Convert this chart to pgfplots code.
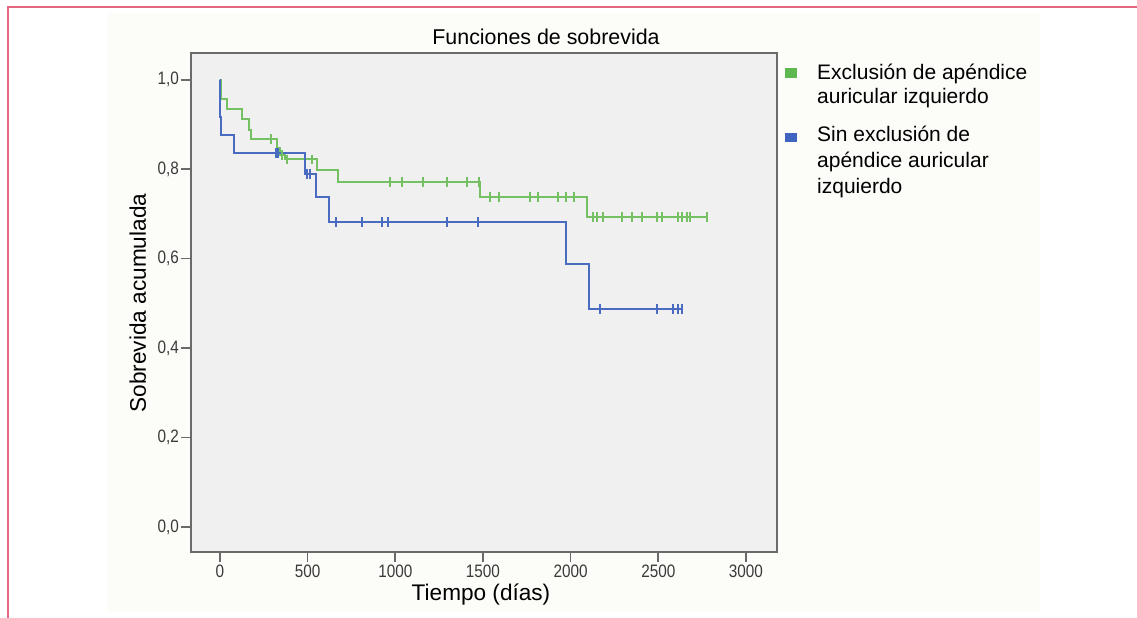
\documentclass[border=0pt]{standalone}
\usepackage{fontspec}
\setmainfont{Liberation Sans}
\newfontfamily\narrowfont[FakeStretch=0.85]{Liberation Sans}
\usepackage{pgfplots}
\pgfplotsset{compat=1.18}
\definecolor{kmGreen}{HTML}{74C062}
\definecolor{kmBlue}{HTML}{4A6CC0}
\definecolor{legGreen}{HTML}{5DB94F}
\definecolor{legBlue}{HTML}{3F64C2}
\definecolor{plotBg}{HTML}{F0F0F0}
\definecolor{frameGray}{HTML}{6A6A6A}
\definecolor{tickGray}{HTML}{3A3A3A}
\definecolor{panelBg}{HTML}{FCFCF8}
\definecolor{pinkLine}{HTML}{E4677F}
\tikzset{
  km/.style={const plot, line width=1pt, no markers},
  cens/.style={only marks, mark=|, mark size=2.4pt, mark options={line width=1pt}},
}
\begin{document}
\begin{tikzpicture}
\path[use as bounding box] (-95.5pt,-32.5pt) rectangle (473pt,276pt);
\fill[panelBg] (-42pt,-30pt) rectangle (424.5pt,269.5pt);
\draw[pinkLine, line width=0.8pt] (-91.5pt,-40pt) -- (-91.5pt,272.5pt) -- (480pt,272.5pt);
\begin{axis}[
    scale only axis, width=293pt, height=249.5pt,
    xmin=-165, xmax=3177, ymin=-0.056, ymax=1.06,
    axis background/.style={fill=plotBg},
    axis line style={draw=frameGray, line width=0.8pt},
    xtick={0,500,1000,1500,2000,2500,3000},
    ytick={0,0.2,0.4,0.6,0.8,1.0},
    xtick pos=bottom, ytick pos=left,
    tick align=outside, major tick length=5pt,
    tick style={draw=frameGray, line width=0.8pt},
    ticklabel style={font=\narrowfont\fontsize{9}{10}\selectfont, text=tickGray},
    /pgf/number format/assume math mode=true,
    xticklabel style={yshift=2.2pt, /pgf/number format/.cd, fixed, 1000 sep={}},
    yticklabel style={xshift=2.5pt, /pgf/number format/.cd, fixed, fixed zerofill, precision=1, use comma},
    clip=false,
]
% Exclusion de apendice auricular izquierdo
\addplot[km, kmGreen] coordinates {
  (0,1.0) (4,0.957) (38,0.935) (124,0.912) (165,0.888) (177,0.867) (323,0.847)
  (342,0.832) (371,0.822) (551,0.799) (671,0.772) (1483,0.738) (2095,0.693) (2776,0.693)};
\addplot[cens, kmGreen] coordinates {
  (291,0.867) (352,0.832) (380,0.822) (527,0.822)
  (970,0.772) (1036,0.772) (1160,0.772) (1296,0.772) (1410,0.772) (1479,0.772)
  (1540,0.738) (1592,0.738) (1768,0.738) (1816,0.738) (1930,0.738) (1974,0.738) (2021,0.738)
  (2130,0.693) (2149,0.693) (2187,0.693) (2292,0.693) (2349,0.693) (2406,0.693)
  (2491,0.693) (2519,0.693) (2614,0.693) (2634,0.693) (2662,0.693) (2681,0.693) (2776,0.693)};
% Sin exclusion
\addplot[km, kmBlue] coordinates {
  (0,1.0) (2,0.917) (5,0.877) (82,0.836) (485,0.789) (546,0.737) (624,0.682)
  (1974,0.588) (2107,0.487) (2634,0.487)};
\addplot[cens, kmBlue] coordinates {
  (318,0.836) (333,0.836) (494,0.789) (513,0.789)
  (660,0.682) (808,0.682) (922,0.682) (960,0.682) (1297,0.682) (1474,0.682)
  (2168,0.487) (2491,0.487) (2586,0.487) (2614,0.487) (2634,0.487)};
\end{axis}
% title, axis labels
\node[anchor=base, font=\fontsize{10.7}{12}\selectfont] at (177.5pt,254pt) {Funciones de sobrevida};
\node[anchor=base, font=\fontsize{11.3}{13}\selectfont] at (145pt,-24pt) {Tiempo (días)};
\node[anchor=base, rotate=90, font=\fontsize{11.3}{13}\selectfont] at (-22.5pt,124.5pt) {Sobrevida acumulada};
% legend
\fill[legGreen] (297.2pt,237.2pt) rectangle (302.8pt,242pt);
\fill[legBlue] (297.2pt,204.9pt) rectangle (302.8pt,209.7pt);
\begin{scope}[every node/.style={anchor=base west, inner sep=0pt, font=\fontsize{10.5}{12}\selectfont}]
\node at (312.9pt,236.4pt) {Exclusión de apéndice};
\node at (312.9pt,224.1pt) {auricular izquierdo};
\node at (312.9pt,205.2pt) {Sin exclusión de};
\node at (312.9pt,192.3pt) {apéndice auricular};
\node at (312.9pt,179.4pt) {izquierdo};
\end{scope}
\end{tikzpicture}
\end{document}
